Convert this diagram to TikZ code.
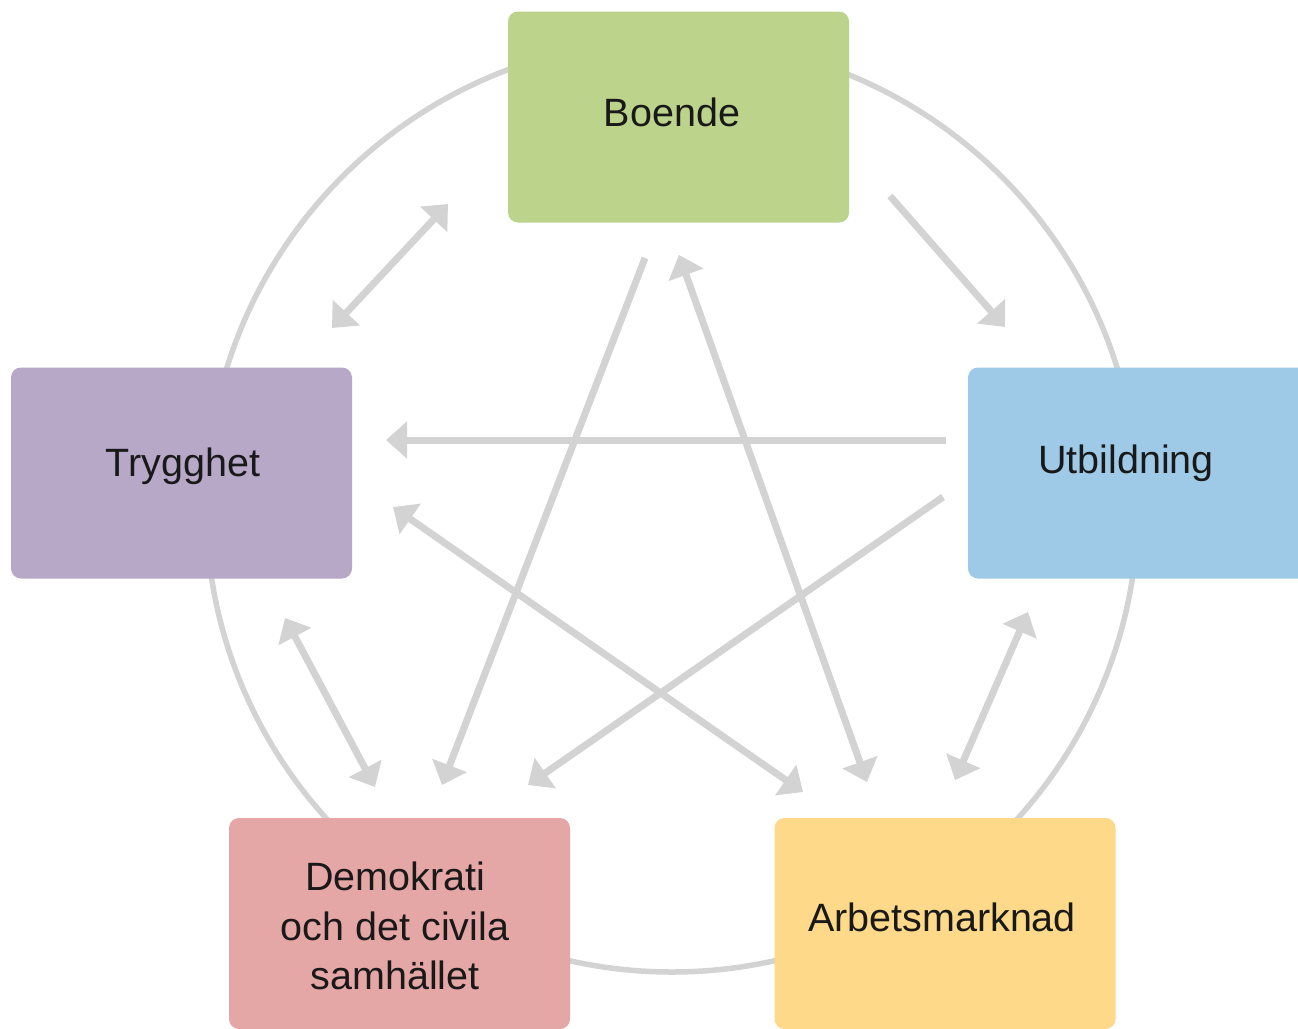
\documentclass[tikz,border=0pt]{standalone}
\usepackage{fontspec}
\setmainfont{Liberation Sans}
\usetikzlibrary{arrows.meta}
\definecolor{cgreen}{HTML}{BCD38C}
\definecolor{cpurple}{HTML}{B8A8C8}
\definecolor{cblue}{HTML}{9FCAE7}
\definecolor{cpink}{HTML}{E5A7A6}
\definecolor{cyellow}{HTML}{FED98A}
\definecolor{cgray}{HTML}{D3D3D3}
\tikzset{
  box/.style={rectangle, rounded corners=10pt, draw=none, minimum width=341pt,
    minimum height=211pt, inner sep=0pt},
  lbl/.style={align=center, inner sep=0pt, font=\fontsize{39.5}{49.5}\selectfont, text=black!90},
  ring/.style={draw=cgray, line width=5.5pt},
  conn/.style={draw=cgray, line width=7pt, -{Triangle[length=21pt,width=36pt]}},
  bconn/.style={draw=cgray, line width=7pt, {Triangle[length=21pt,width=36pt]}-{Triangle[length=21pt,width=36pt]}}
}
\begin{document}
\begin{tikzpicture}[x=1pt,y=-1pt]
\useasboundingbox (0,0) rectangle (1298,1028);
\clip (0,0) rectangle (1298,1028);
\fill[white] (0,0) rectangle (1298,1028);
\draw[ring] (672,506) circle[radius=466pt];
\node[box, fill=cgreen]  (boende) at (678.5,117) {};
\node[box, fill=cpurple] (trygg)  at (181.5,473) {};
\node[box, fill=cblue]   (utb)    at (1138.5,473) {};
\node[box, fill=cpink]   (demo)   at (399.5,923.5) {};
\node[box, fill=cyellow] (arb)    at (945,923.5) {};
\node[lbl] (boendet) at (672,112) {Boende};
\node[lbl] (tryggt)  at (183,466) {Trygghet};
\node[lbl] (utbt)    at (1126,463) {Utbildning};
\node[lbl] (demot)   at (395,926) {Demokrati\\och det civila\\samhället};
\node[lbl] (arbt)    at (942,917) {Arbetsmarknad};
% connector end points
\coordinate (a1) at (448,204);  \coordinate (a2) at (332,328);
\coordinate (b1) at (890,196);  \coordinate (b2) at (1005,327);
\coordinate (c1) at (946,440);  \coordinate (c2) at (386,440);
\coordinate (d1) at (943,497);  \coordinate (d2) at (528,785);
\coordinate (e1) at (645,258);  \coordinate (e2) at (442,785);
\coordinate (f1) at (679,255);  \coordinate (f2) at (867,782);
\coordinate (g1) at (393,507);  \coordinate (g2) at (803,792);
\coordinate (h1) at (1028,612); \coordinate (h2) at (955,780);
\coordinate (i1) at (285,618);  \coordinate (i2) at (375,787);
\draw[bconn] (a1) -- (a2);
\draw[conn]  (b1) -- (b2);
\draw[conn]  (c1) -- (c2);
\draw[conn]  (d1) -- (d2);
\draw[conn]  (e1) -- (e2);
\draw[bconn] (f1) -- (f2);
\draw[bconn] (g1) -- (g2);
\draw[bconn] (h1) -- (h2);
\draw[bconn] (i1) -- (i2);
\end{tikzpicture}
\end{document}
